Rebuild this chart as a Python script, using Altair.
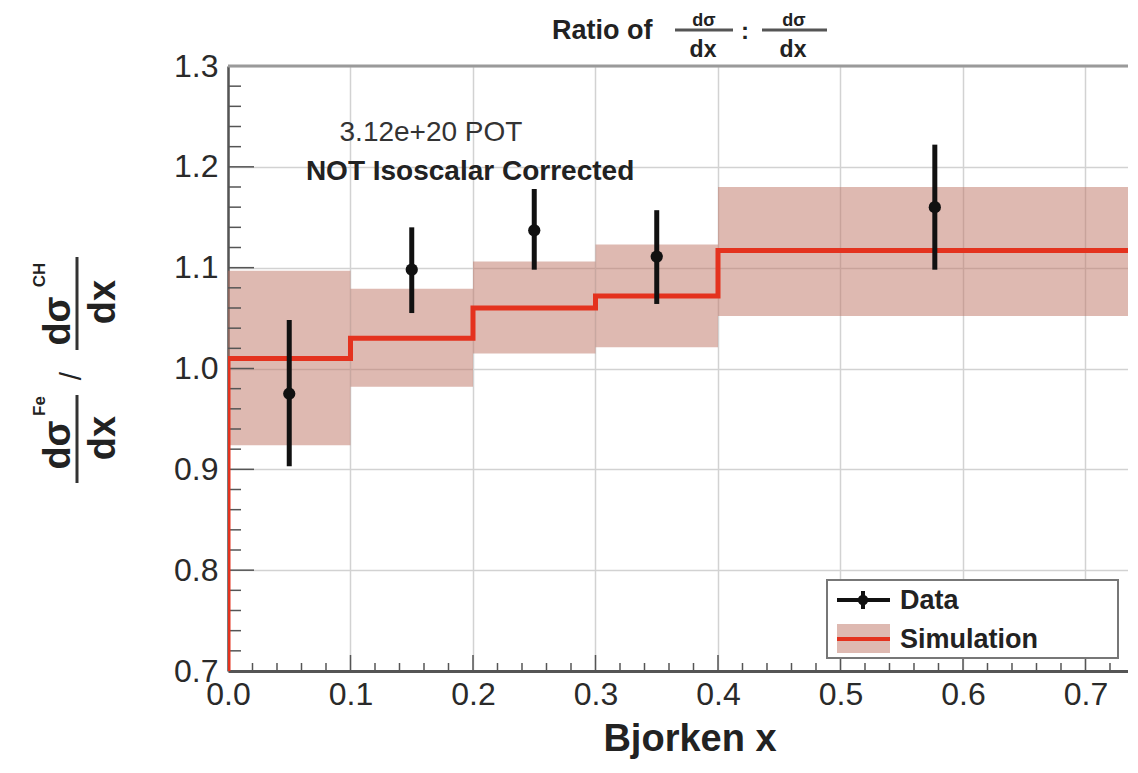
import altair as alt
import pandas as pd

FONT = "Liberation Sans"

# ---- data ----
bin_lo = [0.0, 0.1, 0.2, 0.3, 0.4]
bin_hi = [0.1, 0.2, 0.3, 0.4, 0.75]
sim_val = [1.010, 1.030, 1.060, 1.072, 1.117]
band_lo = [0.924, 0.982, 1.015, 1.021, 1.052]
band_hi = [1.097, 1.079, 1.106, 1.123, 1.180]

data_x = [0.05, 0.15, 0.25, 0.35, 0.577]
data_y = [0.975, 1.098, 1.137, 1.111, 1.160]
data_lo = [0.903, 1.055, 1.098, 1.064, 1.098]
data_hi = [1.048, 1.140, 1.178, 1.157, 1.222]

x_ticks = [0.0, 0.1, 0.2, 0.3, 0.4, 0.5, 0.6, 0.7]
y_ticks = [0.7, 0.8, 0.9, 1.0, 1.1, 1.2, 1.3]
x_minor = [round(0.02 * i, 2) for i in range(0, 37) if i % 5 != 0]
y_minor = [round(0.7 + 0.02 * i, 2) for i in range(0, 31) if i % 5 != 0]

# ---- layout ----
W, H = 900, 605
XMAX = 0.7347
YMIN, YMAX = 0.7, 1.3

xs = alt.Scale(domain=[0, XMAX], nice=False, zero=False)
ys = alt.Scale(domain=[YMIN, YMAX], nice=False, zero=False)

band_df = pd.DataFrame({"lo": bin_lo, "hi": bin_hi, "blo": band_lo, "bhi": band_hi})
line_df = pd.DataFrame({
    "x": [bin_lo[0]] + bin_lo + [bin_hi[-1]],
    "y": [YMIN] + sim_val + [sim_val[-1]],
})
line_df["o"] = range(len(line_df))
pts_df = pd.DataFrame({"x": data_x, "y": data_y, "lo": data_lo, "hi": data_hi})
dummy = pd.DataFrame({"a": [0]})

xaxis = alt.Axis(values=x_ticks, format=".1f", title=None, grid=True, gridColor="#d2d2d2",
                 gridWidth=1.5, domain=True, domainColor="#555", domainWidth=3, ticks=False,
                 labelFont=FONT, labelFontSize=32, labelColor="#2a2a2a", labelPadding=8,
                 labelFlush=False, labelOverlap=False)
yaxis = alt.Axis(values=y_ticks, format=".1f", title=None, grid=True, gridColor="#d2d2d2",
                 gridWidth=1.5, domain=True, domainColor="#555", domainWidth=2.5, ticks=False,
                 labelFont=FONT, labelFontSize=32, labelColor="#2a2a2a", labelPadding=10,
                 labelFlush=False, labelOverlap=False)

band = alt.Chart(band_df).mark_rect(color="#bd7363", opacity=0.5, clip=True).encode(
    x=alt.X("lo:Q", scale=xs, axis=xaxis), x2="hi:Q",
    y=alt.Y("blo:Q", scale=ys, axis=yaxis), y2="bhi:Q")

line = alt.Chart(line_df).mark_line(color="#e4321e", strokeWidth=5, interpolate="step-after",
                                    clip=True).encode(
    x=alt.X("x:Q", scale=xs), y=alt.Y("y:Q", scale=ys), order="o:Q")

err = alt.Chart(pts_df).mark_rule(color="#111", strokeWidth=5).encode(
    x=alt.X("x:Q", scale=xs), y=alt.Y("lo:Q", scale=ys), y2="hi:Q")
pts = alt.Chart(pts_df).mark_circle(color="#111", opacity=1, size=150).encode(
    x=alt.X("x:Q", scale=xs), y=alt.Y("y:Q", scale=ys))

# top frame line
top = alt.Chart(dummy).mark_rule(color="#9a9a9a", strokeWidth=3).encode(
    x=alt.value(0), x2=alt.value(W), y=alt.value(0))

# inside ticks
ymaj = alt.Chart(pd.DataFrame({"v": y_ticks[1:-1]})).mark_rule(color="#555", strokeWidth=1.5).encode(
    y=alt.Y("v:Q", scale=ys), x=alt.value(0), x2=alt.value(26))
ymin_ = alt.Chart(pd.DataFrame({"v": y_minor})).mark_rule(color="#555", strokeWidth=1.5).encode(
    y=alt.Y("v:Q", scale=ys), x=alt.value(0), x2=alt.value(13))
xmaj = alt.Chart(pd.DataFrame({"v": x_ticks[1:]})).mark_rule(color="#555", strokeWidth=1.5).encode(
    x=alt.X("v:Q", scale=xs), y=alt.value(H), y2=alt.value(H - 16))
xmin_ = alt.Chart(pd.DataFrame({"v": x_minor})).mark_rule(color="#555", strokeWidth=1.5).encode(
    x=alt.X("v:Q", scale=xs), y=alt.value(H), y2=alt.value(H - 8))


def txt(s, x, y, size, weight="normal", angle=0, align="center", baseline="middle", color="#222"):
    return alt.Chart(dummy).mark_text(text=s, fontSize=size, fontWeight=weight, angle=angle,
                                      align=align, baseline=baseline, color=color,
                                      font=FONT).encode(x=alt.value(x), y=alt.value(y))


def hrule(x1, x2, y, color="#555", w=3):
    return alt.Chart(dummy).mark_rule(color=color, strokeWidth=w).encode(
        x=alt.value(x1), x2=alt.value(x2), y=alt.value(y))


def vrule(x, y1, y2, color="#333", w=3):
    return alt.Chart(dummy).mark_rule(color=color, strokeWidth=w).encode(
        x=alt.value(x), y=alt.value(y1), y2=alt.value(y2))


# annotations in data coordinates
ann_df = pd.DataFrame({"x": [0.1657], "y": [1.234], "t": ["3.12e+20 POT"]})
ann2_df = pd.DataFrame({"x": [0.1976], "y": [1.195], "t": ["NOT Isoscalar Corrected"]})
ann1 = alt.Chart(ann_df).mark_text(font=FONT, fontSize=28, color="#333").encode(
    x=alt.X("x:Q", scale=xs), y=alt.Y("y:Q", scale=ys), text="t:N")
ann2 = alt.Chart(ann2_df).mark_text(font=FONT, fontSize=28, fontWeight="bold", color="#222").encode(
    x=alt.X("x:Q", scale=xs), y=alt.Y("y:Q", scale=ys), text="t:N")

# title "Ratio of dσ/dx : dσ/dx"
title_parts = [
    txt("Ratio of", 324, -35, 27, "bold", align="left"),
    txt("dσ", 476, -40, 18, "bold", baseline="alphabetic"),
    txt("dσ", 566, -40, 18, "bold", baseline="alphabetic"),
    hrule(447, 505, -36, "#555", 3),
    hrule(534, 599, -36, "#555", 3),
    txt(":", 517, -34, 24, "bold"),
    txt("dx", 475, -16, 23, "bold"),
    txt("dx", 565, -16, 23, "bold"),
]

# y-axis title built from parts, rotated
ytitle = [
    txt("dσ", -158, 379, 38, "bold", angle=270, baseline="alphabetic"),
    txt("Fe", -183, 340, 17, "bold", angle=270, baseline="alphabetic"),
    vrule(-151, 329, 417, "#333", 3),
    txt("dx", -113, 372, 38, "bold", angle=270, baseline="alphabetic"),
    txt("/", -156, 310, 30, "normal", angle=270),
    txt("dσ", -158, 255, 38, "bold", angle=270, baseline="alphabetic"),
    txt("CH", -183, 209, 17, "bold", angle=270, baseline="alphabetic"),
    vrule(-151, 191, 284, "#333", 3),
    txt("dx", -113, 236, 38, "bold", angle=270, baseline="alphabetic"),
]

# x-axis title
xtitle = txt("Bjorken x", 462, 685, 38, "bold", baseline="alphabetic")

# legend
leg_box = alt.Chart(dummy).mark_rect(fill="white", stroke="#777", strokeWidth=2).encode(
    x=alt.value(599), x2=alt.value(890), y=alt.value(514), y2=alt.value(592))
leg = [
    leg_box,
    hrule(609, 662, 534, "#111", 4),
    vrule(635, 525, 543, "#111", 4),
    alt.Chart(dummy).mark_circle(color="#111", opacity=1, size=110).encode(
        x=alt.value(635), y=alt.value(534)),
    txt("Data", 672, 535, 27, "bold", align="left"),
    alt.Chart(dummy).mark_rect(color="#bd7363", opacity=0.5).encode(
        x=alt.value(609), x2=alt.value(662), y=alt.value(558), y2=alt.value(587)),
    hrule(609, 662, 573, "#e4321e", 4),
    txt("Simulation", 672, 574, 27, "bold", align="left"),
]

chart = alt.layer(
    band, ymin_, ymaj, xmin_, xmaj, line, err, pts, top, ann1, ann2,
    *title_parts, *ytitle, xtitle, *leg
).properties(
    width=W, height=H,
    autosize=alt.AutoSizeParams(type="none"),
    padding={"left": 220, "top": 58, "right": 0, "bottom": 89},
).configure_view(stroke=None)

chart.save("out.html", embed_options={"renderer": "svg", "actions": False})
